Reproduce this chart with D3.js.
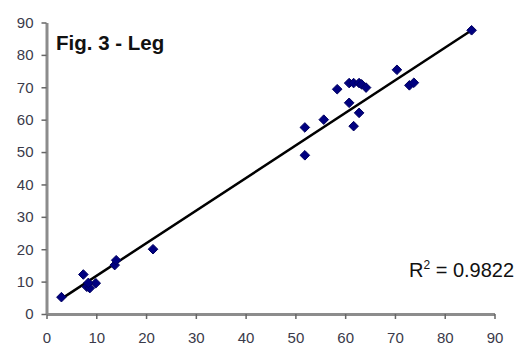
<!DOCTYPE html>
<html>
<head>
<meta charset="utf-8">
<script src="https://cdn.jsdelivr.net/npm/d3@7/dist/d3.min.js"></script>
<style>
  html, body { margin: 0; padding: 0; background: #fff; }
  svg { display: block; font-family: "Liberation Sans", Arial, sans-serif; }
</style>
</head>
<body>
<svg id="chart" width="520" height="345"></svg>
<script>
// Measured vs. predicted leg values
const xValues = [3, 7.4, 8.1, 8.7, 9.9, 8.4, 13.7, 14.0, 21.4,
                 51.9, 51.9, 55.7, 58.4, 60.8, 61.7, 62.8,
                 60.8, 61.7, 62.8, 63.3, 64.2, 70.4, 72.9, 73.8, 85.4];
const yValues = [5.2, 12.2, 8.4, 8.0, 9.5, 9.6, 15.1, 16.6, 20.0,
                 49.0, 57.6, 60.0, 69.4, 65.2, 58.0, 62.1,
                 71.3, 71.3, 71.3, 70.9, 69.9, 75.4, 70.6, 71.4, 87.6];
// Linear trend line: end points (x, y)
const trendX = [2.9, 85.4];
const trendY = [4.6, 87.6];
const xTicks = [0, 10, 20, 30, 40, 50, 60, 70, 80, 90];
const yTicks = [0, 10, 20, 30, 40, 50, 60, 70, 80, 90];
const titleText = "Fig. 3 - Leg";
const r2Value = "0.9822";

const svg = d3.select("#chart");

const x = d3.scaleLinear().domain([0, 90]).range([46.5, 494.5]);
const y = d3.scaleLinear().domain([0, 90]).range([314, 22.5]);

// Axes
const xAxis = svg.append("g")
  .attr("transform", `translate(0,${y(0)})`)
  .call(d3.axisBottom(x).tickValues(xTicks).tickSize(5).tickPadding(13).tickSizeOuter(0));
const yAxis = svg.append("g")
  .attr("transform", `translate(${x(0)},0)`)
  .call(d3.axisLeft(y).tickValues(yTicks).tickSize(5).tickPadding(8).tickSizeOuter(0));

[xAxis, yAxis].forEach(g => {
  g.select(".domain").attr("stroke", "#8c8c8c").attr("stroke-width", 3);
  g.selectAll(".tick line").attr("stroke", "#666").attr("stroke-width", 1.5);
  g.selectAll(".tick text")
    .attr("fill", "#3a3a4a")
    .style("font-size", "15px")
    .style("font-family", "'Liberation Sans', Arial, sans-serif");
});

// Trend line
svg.append("path")
  .datum(trendX.map((v, i) => [v, trendY[i]]))
  .attr("d", d3.line().x(d => x(d[0])).y(d => y(d[1])))
  .attr("fill", "none")
  .attr("stroke", "#000").attr("stroke-width", 2.5);

// Diamond markers
const diamond = "M0,-4.8L4.8,0L0,4.8L-4.8,0Z";
svg.append("g").selectAll("path")
  .data(xValues.map((v, i) => [v, yValues[i]]))
  .join("path")
  .attr("d", diamond)
  .attr("transform", d => `translate(${x(d[0])},${y(d[1])})`)
  .attr("fill", "#000080")
  .attr("stroke", "#000060")
  .attr("stroke-width", 1);

// Title
svg.append("text")
  .attr("x", 56).attr("y", 50)
  .attr("fill", "#111")
  .style("font-size", "20.5px")
  .style("font-weight", "bold")
  .text(titleText);

// R-squared label
const r2 = svg.append("text")
  .attr("x", 409).attr("y", 277)
  .attr("fill", "#111")
  .style("font-size", "20px");
r2.append("tspan").text("R");
r2.append("tspan").attr("dy", -8).style("font-size", "12px").text("2");
r2.append("tspan").attr("dy", 8).text(" = " + r2Value);
</script>
</body>
</html>
